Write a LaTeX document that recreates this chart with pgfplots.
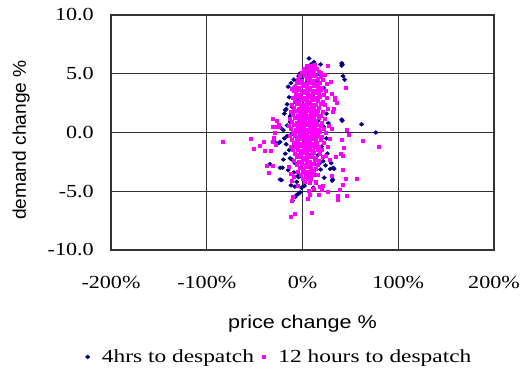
\documentclass[border=0pt]{standalone}
\usepackage{graphicx}
\usepackage{pgfplots}
\pgfplotsset{compat=1.18}
\usepackage{fontspec}
\setmainfont{Liberation Serif}[FakeStretch=1.2]
\newfontfamily\legfont{Liberation Serif}[FakeStretch=1.27]
\newfontfamily\arialfont{Liberation Sans}[FakeStretch=1.17]
\newfontfamily\arialplain{Liberation Sans}
\definecolor{navyc}{RGB}{0,0,128}
\definecolor{magc}{RGB}{255,0,255}
\begin{document}
\begin{tikzpicture}[font=\fontsize{18.5}{22}\selectfont]
\begin{axis}[
  scale only axis, width=383bp, height=235bp,
  xmin=-200, xmax=200, ymin=-10, ymax=10,
  xtick={-200,-100,0,100,200}, xticklabels={-200\%,-100\%,0\%,100\%,200\%},
  ytick={-10,-5,0,5,10}, yticklabels={-10.0,-5.0,0.0,5.0,10.0},
  grid=major, major grid style={black!80, line width=1.2bp},
  axis line style={black!80, line width=1.2bp},
  major tick length=0pt,
  xticklabel style={anchor=north, inner sep=0pt, yshift=-26bp},
  yticklabel style={anchor=east, inner sep=0pt, xshift=-17bp},
  xlabel={\arialfont price change \%}, ylabel={\scalebox{1.04}[1]{\arialplain demand change \%}},
  xlabel style={at={(axis description cs:0.5,-0.313)}, anchor=center},
  ylabel style={at={(axis description cs:-0.235,0.468)}, anchor=center},
  legend style={at={(axis description cs:0.432,-0.455)}, anchor=center, draw=none, fill=none,
    legend columns=2, font=\legfont\fontsize{18.5}{22}\selectfont,
    /tikz/every even column/.append style={column sep=0bp}},
  legend image code/.code={\path (0bp,0bp) (20bp,0bp); \draw[mark repeat=2,mark phase=2,#1] plot coordinates {(0bp,0bp) (8bp,0bp) (16bp,0bp)};},
]
\addplot[only marks, mark=diamond*, mark size=2.0bp, color=navyc, mark options={xscale=1.5}] coordinates {
(6.8,6.3) (18.9,5.8) (41,5.9) (41.5,5.8) (41,5.7) (8.6,5.3) (-4,4.8) (42.3,4.8) (44,4.5) (17,5.0) (15.8,4.4) (3.7,4.2) (1,4.1) (-0.7,3.5) (-6,3.2) (-7.6,2.6) (-8.2,1.8) (-18,1.9) (-17,2.0) (-12.8,1.4) (41,1.1) (41.5,1.0) (61.7,0.7) (76.6,0.0) (-23,0.4) (-21,-3.0) (-22,-4.05) (-11,-2.3) (-13,-2.2) (-4.8,-3.7) (-4,-3.8) (2.7,-4.3) (30,-2.6) (32,-3.0) (29,-3.1) (33,-3.1) (31,-4.1) (31.5,-4.0) (22.7,-3.85) (19,-3.15) (-5.9,-5.3) (-7.6,-5.5) (-10.3,-5.8) (-2.5,-5.1) (-4,-5.2) (2,-4.55) (11.3,-4.7) (16.4,-1.9) (21.5,-2.45) (13,-2.7) (-25,-0.9) (-29,-0.8) (-34,-2.7) (-31,-0.8) (-23.4,-0.8) (-23.4,-3.0) (-23.4,-4.0) (-16,-0.3)
(-15,3.9) (-12,4.2) (-9,4.5) (-3,5.0) (-1,4.6) (2,5.4) (5,5.6) (9,5.8) (12,6.0) (14,5.4) (-14,3.0) (-10,3.6) (-16,2.4) (-11,2.2) (-19,1.6) (-13,0.9) (-16,0.6) (-20,0.2) (-12,-0.2) (-17,-1.0) (-14,-1.5) (-10,-1.2) (-18,-1.8) (-8,-2.6) (-15,-3.2) (-9,-3.4) (-6,-4.2) (-2,-3.0) (3,-3.5) (6,-2.8) (9,-3.3) (8,-4.0) (14,-3.6) (18,-2.6) (24,-2.8) (26,-1.8) (20,-1.2) (14,-0.5) (22,0.5) (25,1.6) (20,2.5) (17,3.4) (22,3.8) (12,3.0) (6,2.0) (0,1.0) (-4,0.0) (-6,1.8) (-3,2.8) (4,3.6) (9,0.4) (3,-1.2) (-2,-1.6) (10,-1.8) (16,1.0) (-7,-0.8) (1,2.4) (7,4.6) (-8,3.9) (11,1.7)
(10,5.1) (13,4.8) (6,5.0) (-6,4.4) (-20,-2.3) (-12,-4.5) (-8,-4.6) (-1,-4.7) (5,-3.9) (25,-0.5) (27,0.8) (-19,-0.5)
};
\addlegendentry{4hrs to despatch}
\addplot[only marks, mark=square*, mark size=1.5bp, color=magc] coordinates {
(4,5.7) (9,5.65) (13,5.75)
(1,5.4) (6,5.35) (11,5.45) (15,5.4)
(-1,5.1) (3,5.15) (8,5.05) (12,5.1) (17,5.15)
(-3,4.8) (2,4.85) (6,4.75) (10,4.8) (14,4.85) (19,4.75)
(-5,4.5) (-1,4.45) (4,4.55) (8,4.5) (12,4.45) (16,4.55) (21,4.5)
(-6,4.2) (-2,4.25) (2,4.15) (6,4.2) (10,4.25) (14,4.15) (18,4.2)
(-8,3.9) (-4,3.85) (0,3.95) (4,3.9) (8,3.85) (12,3.95) (16,3.9) (20,3.85)
(-9,3.6) (-5,3.65) (-1,3.55) (3,3.6) (7,3.65) (11,3.55) (15,3.6) (19,3.65) (24,3.55)
(-7,3.3) (-3,3.25) (1,3.35) (5,3.3) (9,3.25) (13,3.35) (17,3.3) (22,3.25)
(-10,3.0) (-6,3.05) (-2,2.95) (2,3.0) (6,3.05) (10,2.95) (14,3.0) (18,3.05) (25,2.95)
(-8,2.7) (-4,2.65) (0,2.75) (4,2.7) (8,2.65) (12,2.75) (16,2.7) (21,2.65)
(-11,2.4) (-6,2.45) (-2,2.35) (2,2.4) (6,2.45) (10,2.35) (14,2.4) (19,2.45) (23,2.35)
(-9,2.1) (-4,2.05) (0,2.15) (4,2.1) (8,2.05) (12,2.15) (17,2.1) (26,2.05)
(-12,1.8) (-7,1.85) (-3,1.75) (1,1.8) (5,1.85) (9,1.75) (13,1.8) (16,1.85) (21,1.75)
(-10,1.5) (-5,1.45) (-1,1.55) (3,1.5) (7,1.45) (11,1.55) (15,1.5) (19,1.45)
(-13,1.2) (-8,1.25) (-4,1.15) (0,1.2) (4,1.25) (8,1.15) (12,1.2) (17,1.25) (23,1.15)
(-11,0.9) (-6,0.85) (-2,0.95) (2,0.9) (6,0.85) (10,0.95) (14,0.9) (20,0.85)
(-14,0.6) (-9,0.65) (-5,0.55) (-1,0.6) (3,0.65) (7,0.55) (11,0.6) (15,0.65) (19,0.55) (27,0.6)
(-12,0.3) (-7,0.25) (-3,0.35) (1,0.3) (5,0.25) (9,0.35) (13,0.3) (17,0.25) (22,0.35)
(-10,0.0) (-6,0.05) (-2,-0.05) (2,0.0) (6,0.05) (10,-0.05) (14,0.0) (18,0.05) (24,-0.05)
(-13,-0.3) (-8,-0.25) (-4,-0.35) (0,-0.3) (4,-0.25) (8,-0.35) (12,-0.3) (16,-0.25) (20,-0.35)
(-11,-0.6) (-6,-0.65) (-2,-0.55) (2,-0.6) (6,-0.65) (10,-0.55) (14,-0.6) (19,-0.65)
(-9,-0.9) (-5,-0.85) (-1,-0.95) (3,-0.9) (7,-0.85) (11,-0.95) (15,-0.9) (22,-0.85)
(-12,-1.2) (-7,-1.25) (-3,-1.15) (1,-1.2) (5,-1.25) (9,-1.15) (13,-1.2) (17,-1.25)
(-10,-1.5) (-5,-1.45) (-1,-1.55) (3,-1.5) (7,-1.45) (11,-1.55) (16,-1.5) (20,-1.45)
(-8,-1.8) (-4,-1.85) (0,-1.75) (4,-1.8) (8,-1.85) (12,-1.75) (18,-1.8)
(-6,-2.1) (-2,-2.05) (2,-2.15) (6,-2.1) (10,-2.05) (14,-2.15) (21,-2.1)
(-9,-2.4) (-4,-2.45) (0,-2.35) (4,-2.4) (8,-2.45) (13,-2.35) (17,-2.4)
(-6,-2.7) (-1,-2.65) (3,-2.75) (7,-2.7) (11,-2.65) (16,-2.75)
(-3,-3.0) (1,-3.05) (5,-2.95) (9,-3.0) (14,-3.05)
(-5,-3.3) (0,-3.25) (4,-3.35) (8,-3.3) (12,-3.25)
(-2,-3.6) (3,-3.65) (7,-3.55) (11,-3.6)
(0,-3.9) (5,-3.85) (9,-3.95)
(2,-4.2) (7,-4.25)
(-83,-0.76) (-54,-0.56) (-50.8,-1.4) (-44.3,-1.1) (-40.2,-0.76) (-39.9,-1.58) (-33.7,-1.58) (-37.8,-2.8) (-31.6,-2.8) (-35.8,-3.4) (11.3,5.7) (26,5.7) (19,5.1) (23.4,4.9) (25,4.15) (29.5,4.3) (44.6,3.85) (-11,3.7) (30,3.3) (33.7,2.75) (35.4,2.5) (32,1.8) (34,3.0) (33,2.0) (45.7,0.2) (48,-0.2) (-31.6,1.2) (-31.6,0.5) (-29,0.0) (-25,0.5) (-30,-0.4) (-27.5,-1.0) (-31,-0.75) (-28,0.5) (-24.4,0.64) (-27,1.0) (41,-0.6) (43.3,-1.3) (42.3,-2.0) (34.3,-2.1) (40.2,-1.8) (62.9,-0.7) (79.3,-1.2) (42.3,-3.2) (44.7,-3.9) (57,-3.9) (42.3,-4.4) (38.8,-4.9) (36.4,-5.4) (36.4,-5.7) (45.7,-5.4) (21.5,-4.55) (17.4,-5.26) (6.8,-4.97) (9.6,-6.8) (-8.3,-6.9) (-12.8,-7.2) (-10.3,-5.5) (-11,-5.8) (-14.4,-2.9) (2,-3.3) (-12,-3.5) (26,-1.2) (24,-2.0) (28,-0.5) (30,0.3) (28,-2.3) (14,-4.3) (16,-3.6) (20,-4.9) (8,-5.3) (5,-5.6) (-5,-4.5) (-9,-3.8) (-11,-4.1) (30,-3.7) (26,-5.0) (13.7,-4.2) (21.6,-4.5) (18,-4.6) (11.7,-4.8)
};
\addlegendentry{12 hours to despatch}
\end{axis}
\path (current axis.south west) ++(-111bp,-123bp) rectangle ++(521bp,373bp);
\end{tikzpicture}
\end{document}
